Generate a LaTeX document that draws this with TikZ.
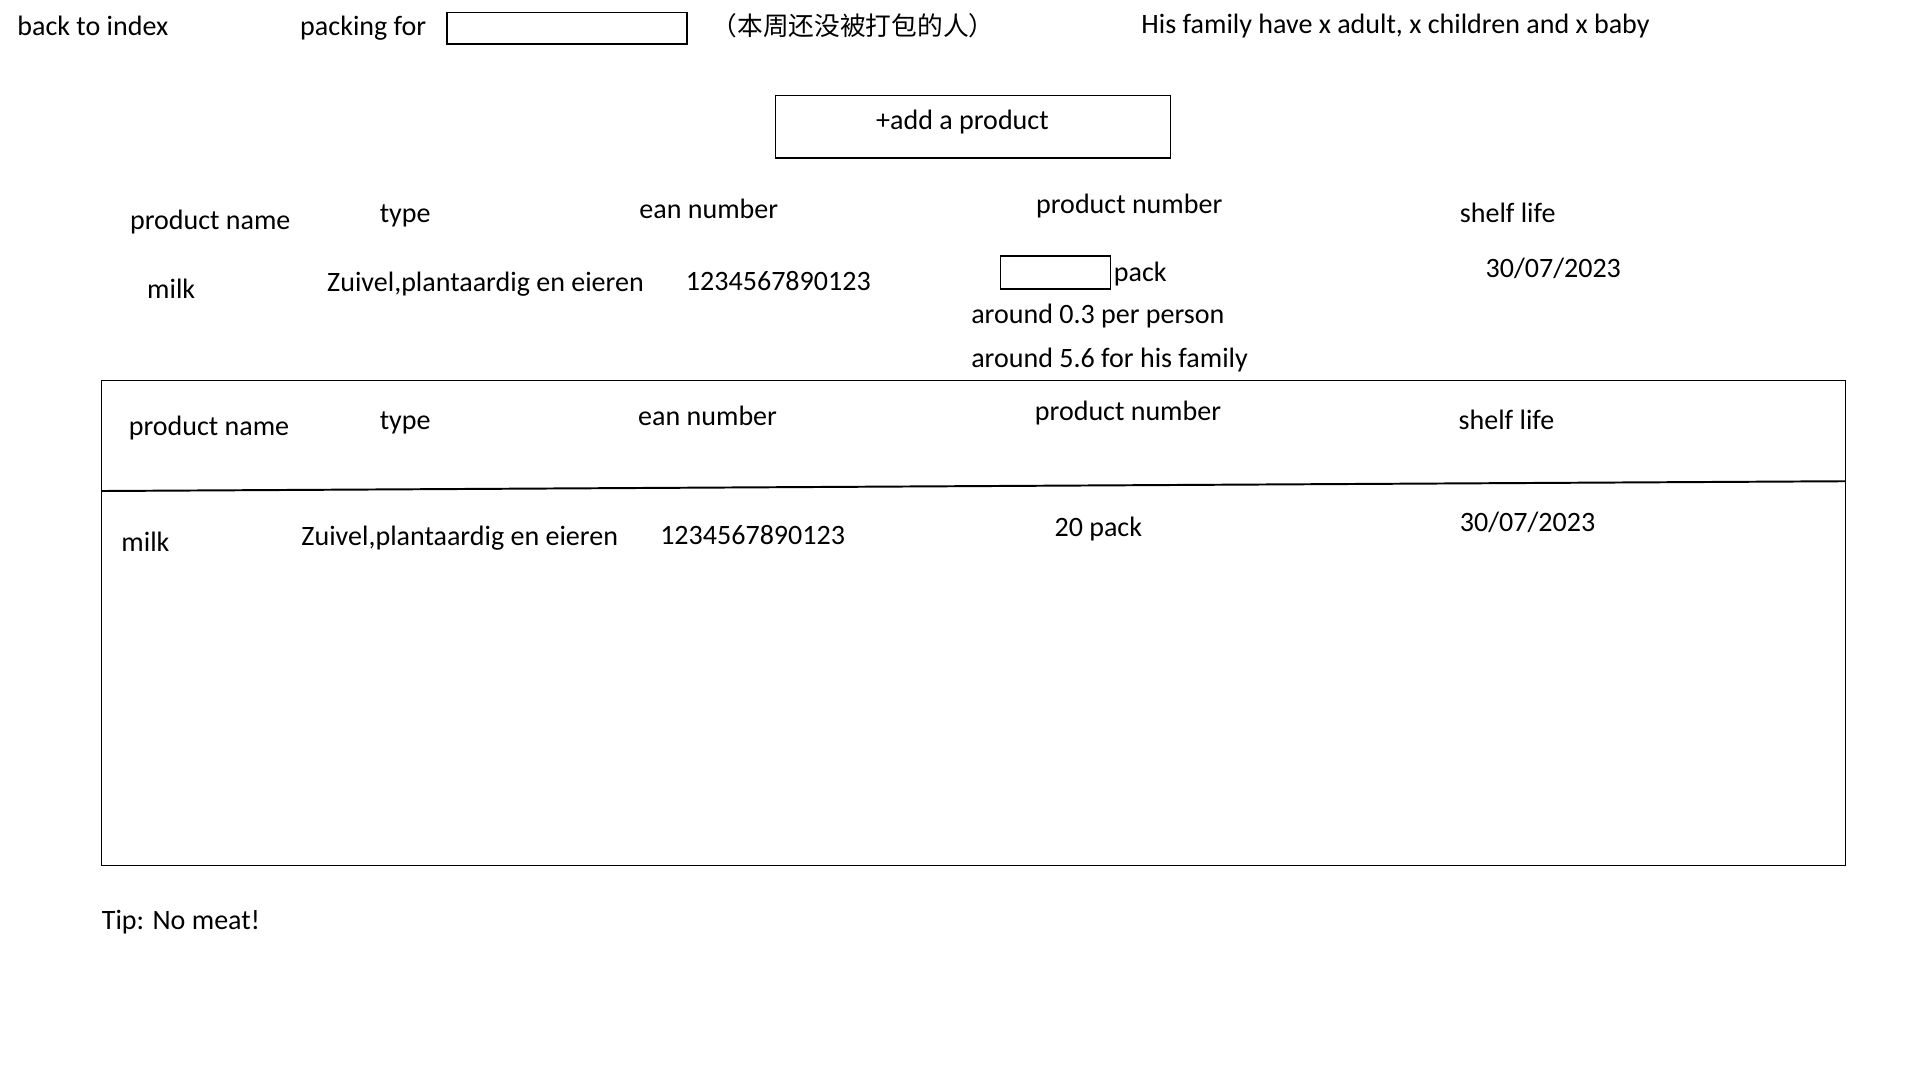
\documentclass[tikz,border=0pt]{standalone}
\usepackage{fontspec}
\setmainfont{Carlito}
\newfontfamily\cjk{Noto Sans CJK SC}
\usepackage{tikz}
\usetikzlibrary{positioning}
\tikzstyle{txt} = [anchor=mid west, inner sep=0pt, yshift=-5pt, font=\fontsize{22.9}{27}\selectfont]
\tikzstyle{field} = [rectangle, draw=black, line width=1pt, inner sep=0pt]
\tikzstyle{button} = [rectangle, draw=black, line width=1pt, minimum width=323pt, minimum height=51pt]

\begin{document}
\begin{tikzpicture}[x=1pt, y=-1pt]
\useasboundingbox (0,0) rectangle (1568,882);
% top bar
\node (back) [txt] at (14,22) {back to index};
\node (packing) [txt] at (245,22) {packing for};
\node (who) [field, minimum width=196pt, minimum height=26pt] at (463,23) {};
\node (note) [txt, font=\fontsize{21}{24}\selectfont\cjk] at (581,22) {（本周还没被打包的人）};
\node (family) [txt] at (932,20) {His family have x adult, x children and x baby};
% add button
\node (add) [button] at (794.5,103.5) {};
\node (addtxt) [txt, anchor=mid] at (786,98) {+add a product};
% new product form
\node (hname) [txt] at (106,180) {product name};
\node (htype) [txt] at (310,174) {type};
\node (hean) [txt] at (522,171) {ean number};
\node (hnum) [txt] at (846,167) {product number};
\node (hlife) [txt] at (1192,174) {shelf life};
\node (milk) [txt] at (120,236) {milk};
\node (type) [txt] at (267,231) {Zuivel,plantaardig en eieren};
\node (ean) [txt] at (560,230) {1234567890123};
\node (amount) [field, minimum width=90pt, minimum height=27pt] at (862,222.5) {};
\node (pack) [txt, right=2pt of amount.east, anchor=mid west] {pack};
\node (life) [txt] at (1213,219) {30/07/2023};
\node (person) [txt] at (793,257) {around 0.3 per person};
\node (hisfam) [txt] at (793,293) {around 5.6 for his family};
% packed list
\node (tbl) [field, minimum width=1424pt, minimum height=396pt] at (795,509) {};
\draw [line width=1.6pt] ([yshift=108pt]tbl.west) -- ([yshift=116pt]tbl.east);
\node (tname) [txt] at (105,348) {product name};
\node (ttype) [txt] at (310,343) {type};
\node (tean) [txt] at (521,340) {ean number};
\node (tnum) [txt] at (845,336) {product number};
\node (tlife) [txt] at (1191,343) {shelf life};
\node (rmilk) [txt] at (99,443) {milk};
\node (rtype) [txt] at (246,438) {Zuivel,plantaardig en eieren};
\node (rean) [txt] at (539,437) {1234567890123};
\node (rnum) [txt] at (861,431) {20 pack};
\node (rlife) [txt] at (1192,427) {30/07/2023};
\node (tip) [txt] at (83,752) {Tip: No meat!};
\end{tikzpicture}
\end{document}
